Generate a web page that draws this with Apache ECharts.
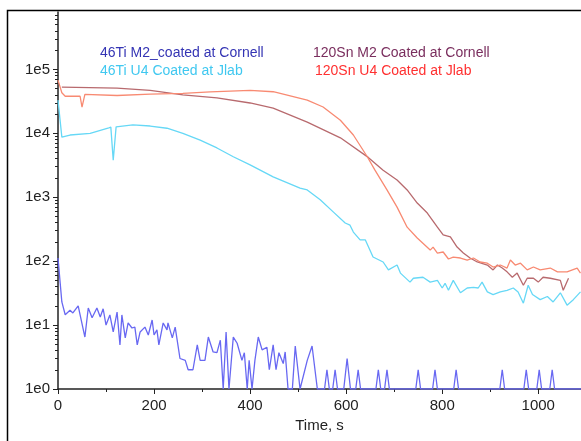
<!DOCTYPE html>
<html lang="en">
<head>
    <meta charset="UTF-8">
    <title>Time, s</title>
    <script src="https://cdn.jsdelivr.net/npm/echarts@6/dist/echarts.min.js"></script>
    <style>
        html, body { margin: 0; padding: 0; background: #fff; }
    </style>
</head>
<body>
<div id="chart" style="width:581px;height:441px;"></div>
<script>
    // [time s, counts]
    var tiCornell = [
        [0,112],[8,23],[15,14.5],[25,17],[31,15.5],[42,20],[56,6.5],[63,18.5],[71,13],[81,18.5],[88,13.4],
        [94,18],[100,10],[108,14.4],[115,7.8],[123,16],[129,4.9],[133,14.4],[140,6.3],[146,10.8],[154,9],
        [160,9.3],[165,4.9],[171,7.8],[181,9.3],[188,7],[196,12],[200,7],[206,8.4],[210,4.9],[219,10.8],
        [227,8.4],[229,10.8],[238,6.3],[244,9.3],[254,3],[265,2.8],[271,2],[281,2],[290,4.9],[296,2.8],
        [306,2.8],[313,6.5],[323,3.8],[331,3.7],[338,5.8],[344,1],[350,7.8],[356,1],[365,6.5],[373,5.2],
        [383,2.8],[388,3.7],[394,1],[398,2.8],[404,1],[410,2.8],[417,6.5],[425,4.1],[429,4.1],[435,4.5],
        [440,2],[448,4.9],[454,2],[460,3.7],[469,2.5],[473,3.8],[479,1],[488,1],[494,4.7],[504,1],
        [519,2.8],[529,4.7],[540,1],[555,1],[560,2],[565,1],[572,1],[577,2],[582,1],[595,1],[602,3],
        [609,1],[620,1],[625,2],[630,1],[662,1],[667,2],[672,1],[680,1],[685,2],[690,1],[745,1],[750,2],
        [755,1],[780,1],[785,2],[790,1],[824,1],[829,2],[834,1],[920,1],[925,2],[930,1],[970,1],[975,2],
        [980,1],[997,1],[1002,2],[1007,1],[1024,1],[1029,2],[1034,1],[1089,1]
    ];
    var tiJlab = [
        [0,33000],[8,8700],[25,9400],[67,10000],[104,12000],[110,12500],[115,3800],[121,12600],[156,13500],
        [192,13000],[227,12000],[260,10000],[296,7800],[331,5900],[365,4300],[400,3200],[448,2080],[504,1390],
        [519,1300],[546,910],[573,590],[598,395],[608,365],[615,285],[629,215],[640,215],[656,116],[677,97],
        [688,73],[706,87],[713,65],[733,47],[740,54],[760,56],[775,47],[790,50],[800,38],[806,45],[813,35],
        [823,50],[838,32],[852,38],[865,39],[875,38],[883,47],[894,33],[906,30],[921,33],[935,35],[948,38],
        [958,33],[969,22],[979,42],[988,30],[1004,25],[1019,28],[1031,23],[1046,32],[1060,20.5],[1073,25],
        [1088,33]
    ];
    var snCornell = [
        [8,52900],[123,51000],[192,47000],[260,40000],[331,35700],[400,29800],[448,24800],[519,15000],
        [588,8500],[646,4200],[677,2650],[706,1860],[727,1300],[748,810],[769,565],[790,340],[802,257],
        [817,240],[831,166],[844,134],[858,112],[873,97],[894,87],[906,73],[915,87],[925,78],[935,68],
        [946,56],[956,65],[969,42],[977,54],[990,54],[1000,47],[1010,56],[1025,54],[1046,50],[1052,35],
        [1063,54]
    ];
    var snJlab = [
        [0,68000],[8,43000],[15,38000],[46,38000],[50,25700],[56,40500],[123,39000],[192,41000],[260,42000],
        [317,44500],[400,47000],[448,44700],[519,33000],[552,25800],[588,16000],[615,9400],[644,4300],
        [660,2650],[685,1300],[706,700],[727,340],[748,230],[775,149],[781,166],[790,134],[802,139],
        [813,108],[823,116],[838,112],[852,104],[865,112],[879,97],[894,93],[906,81],[921,87],[935,78],
        [942,104],[952,87],[963,93],[977,73],[990,81],[1004,73],[1025,78],[1040,68],[1060,68],[1081,78],
        [1088,65]
    ];
    var seriesNames = ['46Ti M2_coated at Cornell', '46Ti U4 Coated at Jlab', '120Sn M2 Coated at Cornell', '120Sn U4 Coated at Jlab'];
    var minorTicks = [];
    for (var d = 0; d < 6; d++) {
        for (var k = 2; k < 10; k++) {
            var v = k * Math.pow(10, d);
            if (v < 790000) minorTicks.push(v);
        }
    }

    var myChart = echarts.init(document.getElementById('chart'));
    var font = '"Liberation Sans", Arial, sans-serif';
    var option = {
        backgroundColor: '#fff',
        animation: false,
        grid: {left: 58, top: 12, right: 0, bottom: 52},
        graphic: [
            {type: 'rect', shape: {x: 7.5, y: 10.5, width: 600, height: 460}, style: {fill: 'none', stroke: '#000', lineWidth: 1.5}, z: 100},
            {type: 'text', left: 100, top: 46, style: {text: seriesNames[0], fill: '#3434b4', font: '14px ' + font}},
            {type: 'text', left: 100, top: 64, style: {text: seriesNames[1], fill: '#40c8f0', font: '14px ' + font}},
            {type: 'text', left: 313, top: 46, style: {text: seriesNames[2], fill: '#7a2e5e', font: '14px ' + font}},
            {type: 'text', left: 315, top: 64, style: {text: seriesNames[3], fill: '#ff3030', font: '14px ' + font}}
        ],
        xAxis: {
            type: 'value', min: 0, max: 1089, interval: 200,
            name: 'Time, s', nameLocation: 'middle', nameGap: 29,
            nameTextStyle: {fontSize: 15, color: '#222', fontFamily: font},
            axisLine: {lineStyle: {color: '#222', width: 1.5}},
            axisTick: {length: 5, lineStyle: {color: '#222'}},
            minorTick: {show: true, splitNumber: 2, length: 3, lineStyle: {color: '#222'}},
            axisLabel: {
                fontSize: 15, color: '#222', fontFamily: font, margin: 9, showMaxLabel: false,
                formatter: function (v) { return String(v); }
            },
            splitLine: {show: false}
        },
        yAxis: [{
            type: 'log', logBase: 10, min: 1, max: 790000, interval: 1,
            axisLine: {show: true, lineStyle: {color: '#222', width: 1.5}},
            axisTick: {show: true, length: 5, lineStyle: {color: '#222'}},
            axisLabel: {
                fontSize: 15, color: '#222', fontFamily: font, margin: 8, showMaxLabel: false,
                formatter: function (v) { return '1e' + Math.round(Math.log10(v)); }
            },
            splitLine: {show: false}
        }, {
            type: 'log', logBase: 10, min: 1, max: 790000, position: 'left',
            axisLine: {show: false},
            axisTick: {show: true, length: 3, customValues: minorTicks, lineStyle: {color: '#222'}},
            axisLabel: {show: false},
            splitLine: {show: false}
        }],
        series: [
            {name: seriesNames[0], type: 'line', data: tiCornell, showSymbol: false, lineStyle: {color: '#6868f2', width: 1.3}},
            {name: seriesNames[1], type: 'line', data: tiJlab, showSymbol: false, lineStyle: {color: '#66d8f6', width: 1.3}},
            {name: seriesNames[2], type: 'line', data: snCornell, showSymbol: false, lineStyle: {color: '#b86a6e', width: 1.3}},
            {name: seriesNames[3], type: 'line', data: snJlab, showSymbol: false, lineStyle: {color: '#f88a72', width: 1.3}}
        ]
    };
    myChart.setOption(option);
</script>
</body>
</html>
